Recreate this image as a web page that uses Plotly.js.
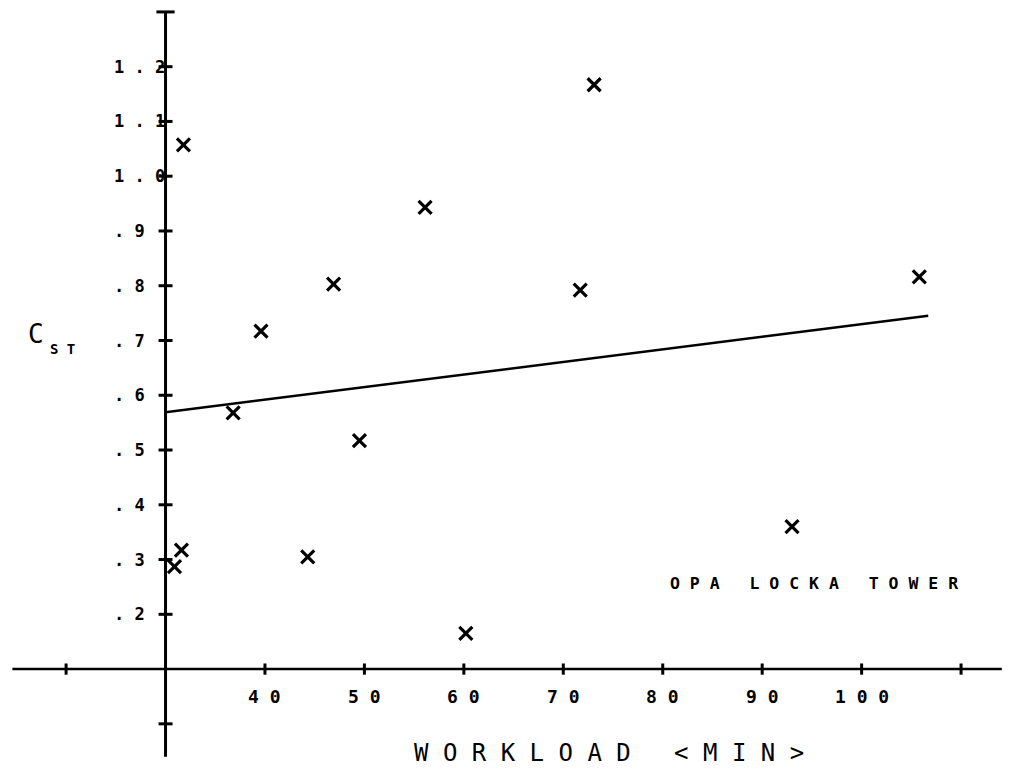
<!DOCTYPE html>
<html>
<head>
<meta charset="utf-8">
<script src="https://cdn.plot.ly/plotly-3.0.1.min.js"></script>
<style>html,body{margin:0;padding:0;background:#fff;}</style>
</head>
<body>
<div id="chart" style="width:1018px;height:769px;"></div>
<script>
// ---- data ----
const workload = [31.8, 73.1, 56.1, 46.9, 71.7, 105.8, 39.6, 36.8, 49.5, 44.3, 31.6, 30.9, 60.2, 93.0];
const cst      = [1.057, 1.167, 0.943, 0.803, 0.792, 0.816, 0.717, 0.568, 0.517, 0.305, 0.317, 0.287, 0.165, 0.360];
const fitX = [30, 106.7];
const fitY = [0.569, 0.745];

// axis geometry (axes cross at x=30, y=0.1)
const xCross = 30, yCross = 0.1;
const xAxisExtent = [14.6, 114.1];
const yAxisExtent = [-0.06, 1.30];
const xTickVals = [20, 40, 50, 60, 70, 80, 90, 100, 110];
const xLabelVals = [40, 50, 60, 70, 80, 90, 100];
const xLabelText = ['40', '50', '60', '70', '80', '90', '100'];
const yTickVals = [0.0, 0.2, 0.3, 0.4, 0.5, 0.6, 0.7, 0.8, 0.9, 1.0, 1.1, 1.2];
const yLabelVals = [0.2, 0.3, 0.4, 0.5, 0.6, 0.7, 0.8, 0.9, 1.0, 1.1, 1.2];
const yLabelText = ['.2', '.3', '.4', '.5', '.6', '.7', '.8', '.9', '1.0', '1.1', '1.2'];

const spaced = s => s.split('').join(' ');
const FONT = 'DejaVu Sans Mono, monospace';

const traces = [
  // axis lines
  {x: xAxisExtent, y: [yCross, yCross], mode: 'lines', line: {color: '#000', width: 2.5},
   hoverinfo: 'skip', showlegend: false},
  {x: [xCross, xCross], y: yAxisExtent, mode: 'lines', line: {color: '#000', width: 3},
   hoverinfo: 'skip', showlegend: false},
  // axis tick marks
  {x: xTickVals, y: xTickVals.map(() => yCross), mode: 'markers',
   marker: {symbol: 'line-ns', size: 8, line: {color: '#000', width: 3}},
   hoverinfo: 'skip', showlegend: false},
  {x: yTickVals.map(() => xCross), y: yTickVals, mode: 'markers',
   marker: {symbol: 'line-ew', size: 10, line: {color: '#000', width: 3}},
   hoverinfo: 'skip', showlegend: false},
  // top cap of y axis
  {x: [xCross], y: [yAxisExtent[1]], mode: 'markers',
   marker: {symbol: 'line-ew', size: 13, line: {color: '#000', width: 3}},
   hoverinfo: 'skip', showlegend: false},
  // regression line
  {x: fitX, y: fitY, mode: 'lines', line: {color: '#000', width: 2.5}, showlegend: false},
  // data points
  {x: workload, y: cst, mode: 'markers',
   marker: {symbol: 'x-thin', size: 13, color: '#000', line: {color: '#000', width: 3.2}},
   showlegend: false}
];

const annotations = [];
xLabelVals.forEach((v, i) => annotations.push({
  x: v, y: yCross, xref: 'x', yref: 'y', text: spaced(xLabelText[i]), showarrow: false,
  xanchor: 'center', yanchor: 'middle', yshift: -27,
  font: {family: FONT, size: 18, color: '#000', weight: 'bold'}
}));
yLabelVals.forEach((v, i) => annotations.push({
  x: 24.6, y: v, xref: 'x', yref: 'y', text: spaced(yLabelText[i]), showarrow: false,
  xanchor: 'left', yanchor: 'middle',
  font: {family: FONT, size: 17, color: '#000', weight: 'bold'}
}));
// y axis title: C with subscript ST
annotations.push({
  x: 16.97, y: 0.712, xref: 'x', yref: 'y', text: 'C', showarrow: false,
  xanchor: 'center', yanchor: 'middle',
  font: {family: FONT, size: 26, color: '#000'}
});
annotations.push({
  x: 19.6, y: 0.684, xref: 'x', yref: 'y', text: spaced('ST'), showarrow: false,
  xanchor: 'center', yanchor: 'middle',
  font: {family: FONT, size: 14, color: '#000', weight: 'bold'}
});
annotations.push({
  x: 74.6, y: -0.053, xref: 'x', yref: 'y', text: spaced('WORKLOAD') + '   ' + spaced('<MIN>'),
  showarrow: false, xanchor: 'center', yanchor: 'middle',
  font: {family: FONT, size: 24, color: '#000'}
});
annotations.push({
  x: 95.2, y: 0.257, xref: 'x', yref: 'y',
  text: spaced('OPA') + '   ' + spaced('LOCKA') + '   ' + spaced('TOWER'),
  showarrow: false, xanchor: 'center', yanchor: 'middle',
  font: {family: FONT, size: 16.5, color: '#000', weight: 'bold'}
});

const layout = {
  width: 1018, height: 769,
  margin: {l: 10, r: 10, t: 10, b: 10},
  paper_bgcolor: '#fff', plot_bgcolor: '#fff',
  xaxis: {range: [14.36, 114.72], visible: false, fixedrange: true},
  yaxis: {range: [-0.0642, 1.3035], visible: false, fixedrange: true},
  annotations: annotations,
  showlegend: false
};

Plotly.newPlot('chart', traces, layout, {staticPlot: true, displayModeBar: false});
</script>
</body>
</html>
